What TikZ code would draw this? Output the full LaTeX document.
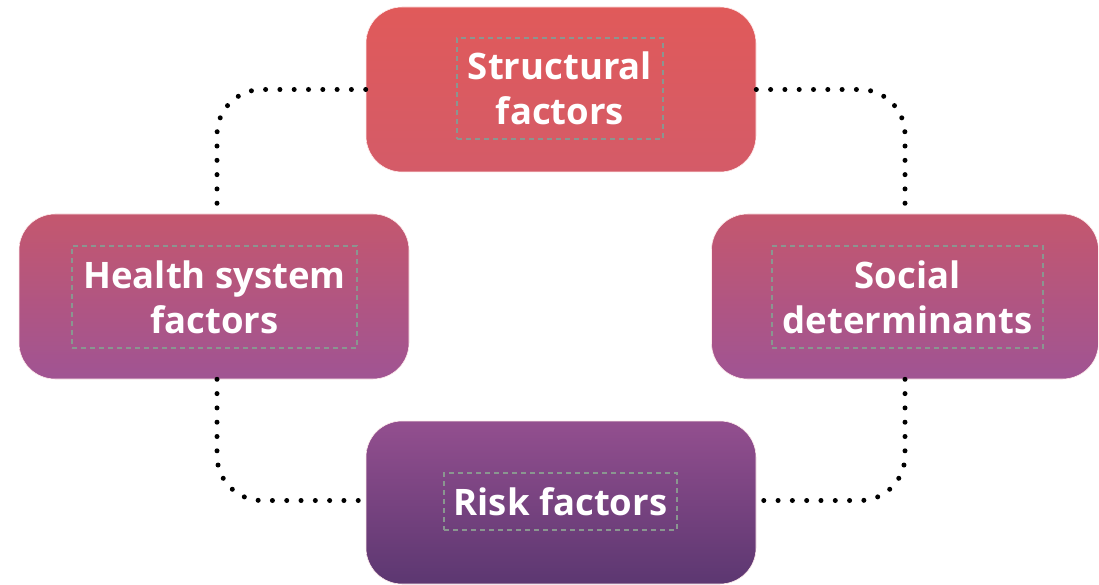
\documentclass[tikz,border=0pt]{standalone}
\usepackage{fontspec}
\setmainfont{Open Sans}
\begin{document}
\begin{tikzpicture}[x=1pt,y=-1pt,
  box/.style={rounded corners=36pt, minimum width=390pt, minimum height=165pt, draw=white!70!pink, line width=0.6pt},
  lbl/.style={draw=dashgray, dash pattern=on 5pt off 4pt, line width=1.8pt, text=white, align=center,
    font=\bfseries\fontsize{36.5}{45}\selectfont, inner sep=0pt},
  dotline/.style={line width=5pt, line cap=round, dash pattern=on 0pt off 14.3pt, rounded corners=45pt}
]
\definecolor{dashgray}{HTML}{8A9690}
\definecolor{c1t}{HTML}{E05A5A}
\definecolor{c1b}{HTML}{D45B68}
\definecolor{c2t}{HTML}{C4576E}
\definecolor{c2b}{HTML}{A05493}
\definecolor{c3t}{HTML}{934F8F}
\definecolor{c3b}{HTML}{5C3771}
\useasboundingbox (0,0) rectangle (1099,585);
\fill[white] (0,0) rectangle (1099,585);
% boxes
\node[box, top color=c1t, bottom color=c1b] (s) at (561,89.5) {};
\node[box, top color=c2t, bottom color=c2b] (h) at (214,296.5) {};
\node[box, minimum width=387pt, top color=c2t, bottom color=c2b] (d) at (905,296.5) {};
\node[box, minimum height=163pt, top color=c3t, bottom color=c3b] (r) at (561,502.5) {};
% labels
\node[lbl, minimum width=206pt, minimum height=101pt] (st) at (560,88.5) {\raisebox{-4pt}{\parbox{206pt}{\centering Structural\\factors}}};
\node[lbl, minimum width=285pt, minimum height=102pt] (ht) at (214.5,297) {\raisebox{-4pt}{\parbox{285pt}{\centering Health system\\factors}}};
\node[lbl, minimum width=271pt, minimum height=102pt] (dt) at (907.5,297) {\raisebox{-4pt}{\parbox{271pt}{\centering Social\\determinants}}};
\node[lbl, minimum width=233pt, minimum height=57pt] (rt) at (560.5,501.5) {\raisebox{-2pt}{Risk factors}};
% connectors
\draw[dotline] (s.west) -| ([xshift=3pt]h.north);
\draw[dotline] (s.east) -| (d.north);
\draw[dotline] (d.south) |- ([yshift=2pt]r.east);
\draw[dotline] ([xshift=3pt]h.south) |- ([yshift=2pt]r.west);
\end{tikzpicture}
\end{document}
